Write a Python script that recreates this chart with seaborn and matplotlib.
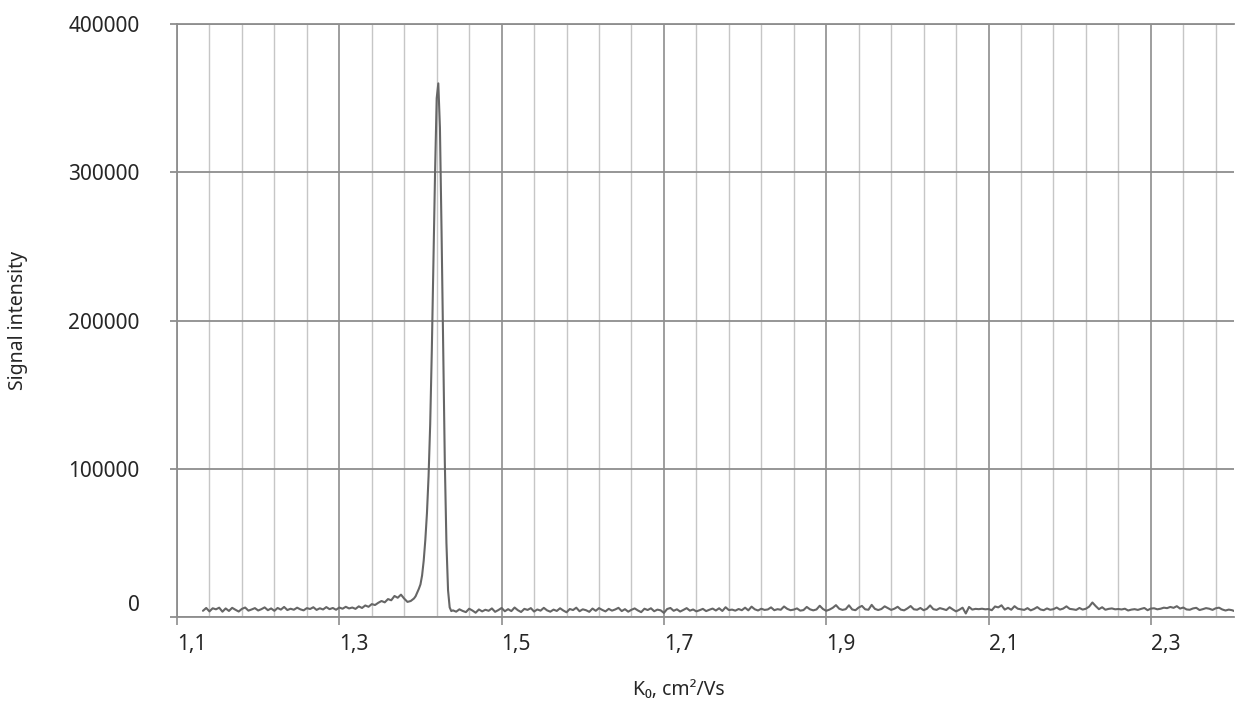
import numpy as np
import pandas as pd
import matplotlib
matplotlib.use("Agg")
import matplotlib.pyplot as plt
import matplotlib.transforms as mtransforms
import seaborn as sns

# sampling grid of the spectrum (K0, cm2/Vs): coarse baseline, fine around the peak
k0_pre = np.round(np.arange(1.132, 1.3921, 0.004), 3)
k0_peak = np.round(np.arange(1.394, 1.4401, 0.002), 3)
k0_post = np.round(np.arange(1.444, 2.4041, 0.004), 3)

# signal, in thousands
signal_pre_k = [
    4.2, 6.1, 3.8, 5.9, 5.2, 6.3, 3.6, 5.8, 4.1, 6.2, 4.9, 3.7, 5.5, 6.4, 4.3, 5.1, 6.0, 4.4,
    5.3, 6.5, 4.6, 5.8, 4.2, 6.1, 5.0, 6.8, 4.7, 5.6, 4.9, 6.3, 5.2, 4.5, 6.0, 5.4, 6.6, 4.8,
    5.9, 5.1, 6.7, 5.3, 6.1, 4.9, 6.4,
    5.6, 6.9, 5.8, 6.4, 5.5, 7.2, 6.1, 7.8, 6.9, 8.7, 8.1, 9.6, 10.8, 9.9, 12.1, 11.3, 14.2,
    13.0, 15.1, 12.4, 10.2, 10.8, 12.5,
]
signal_peak_k = [
    14.0, 16.5, 19.0, 22.0, 28.0, 38.0, 52.0, 70.0, 95.0, 130.0, 180.0, 240.0,
    300.0, 350.0, 360.0, 330.0, 260.0, 180.0, 105.0, 50.0, 18.0, 6.5, 4.0, 4.5,
]
signal_post_k = [
    3.6, 5.2, 4.1, 3.3, 5.6, 4.4, 2.9, 5.1, 3.8, 4.9,
    4.2, 5.8, 3.5, 4.7, 6.1, 3.9, 5.3, 4.0, 6.4, 4.6,
    3.4, 5.5, 4.8, 6.0, 3.7, 5.1, 4.3, 6.2, 4.5, 3.6,
    5.0, 4.1, 5.9, 4.4, 3.2, 5.4, 4.7, 6.3, 3.9, 5.2,
    4.6, 3.5, 5.7, 4.2, 6.0, 4.8, 3.8, 5.5, 4.3, 5.1,
    6.2, 4.0, 5.3, 3.6, 4.9, 5.8, 4.4, 3.3, 5.6, 4.7,
    5.9, 3.9, 5.0, 4.5, 2.8, 5.4, 6.1, 4.2, 5.2, 3.7,
    4.8, 6.0, 4.3, 5.1, 3.8, 4.6, 5.5, 4.0, 4.9, 5.7,
    4.4, 5.9, 4.1, 6.6, 4.7, 5.0, 4.3, 5.4, 4.6, 6.3,
    4.5, 7.0, 5.2, 4.4, 5.6, 4.8, 5.1, 6.5, 4.6, 5.3,
    4.9, 7.1, 5.5, 4.6, 5.0, 5.8, 4.3, 4.7, 6.8, 5.2,
    4.5, 5.1, 7.6, 5.4, 4.2, 5.0, 6.2, 8.0, 5.6, 4.8,
    5.3, 7.9, 5.1, 4.6, 6.4, 7.5, 5.2, 4.9, 8.2, 5.5,
    4.7, 5.4, 7.2, 6.0, 4.8, 5.6, 6.9, 5.0, 4.5, 5.8,
    7.4, 5.2, 4.9, 6.1, 4.6, 5.5, 7.8, 5.3, 4.8, 6.0,
    5.4, 4.7, 6.6, 5.1, 3.8, 4.9, 6.3, 2.4, 6.8, 5.0,
    5.5, 5.3, 5.6, 5.2, 5.4, 4.6, 7.1, 6.5, 7.9, 5.0,
    6.2, 4.9, 7.3, 5.6, 5.2, 4.8, 6.0, 4.5, 5.4, 6.7,
    5.1, 4.6, 5.8, 4.9, 5.3, 6.4, 5.0, 5.7, 7.2, 5.5,
    5.2, 4.8, 6.1, 5.0, 5.6, 7.0, 9.8, 7.4, 5.3, 6.6,
    4.9, 5.5, 5.8, 5.2, 5.4, 5.1, 5.6, 4.4, 5.0, 5.3,
    4.8, 5.5, 6.1, 4.6, 5.7, 5.9, 5.2, 5.6, 6.3, 6.0,
    6.8, 6.2, 7.3, 5.7, 6.4, 5.1, 4.9, 5.8, 6.2, 4.7,
    5.3, 6.0, 5.6, 4.8, 5.9, 6.3, 5.1, 4.4, 5.0, 4.6,
    3.8,
]

x_major = [1.1, 1.3, 1.5, 1.7, 1.9, 2.1, 2.3]
x_labels = ["1,1", "1,3", "1,5", "1,7", "1,9", "2,1", "2,3"]
x_minor = np.round(np.arange(1.14, 2.40, 0.04), 2)
y_ticks = [0, 100000, 200000, 300000, 400000]
y_labels = ["0", "100000", "200000", "300000", "400000"]

df = pd.DataFrame({
    "k0": np.concatenate([k0_pre, k0_peak, k0_post]),
    "signal": np.array(signal_pre_k + signal_peak_k + signal_post_k) * 1000,
})

sns.set_style("white")
plt.rcParams["font.family"] = ["Noto Sans", "DejaVu Sans"]

fig, ax = plt.subplots(figsize=(12.36, 7.08), dpi=100)
fig.subplots_adjust(left=0.1432, right=0.9984, bottom=0.1285, top=0.966)

sns.lineplot(data=df, x="k0", y="signal", ax=ax, color="#666666",
             linewidth=1.5, estimator=None, sort=False)

ax.set_xlim(1.1, 2.4025)
ax.set_ylim(0, 400000)
ax.set_axisbelow(True)

ax.set_xticks(x_major)
ax.set_xticklabels(x_labels, ha="left")
ax.set_xticks(x_minor, minor=True)
ax.set_yticks(y_ticks)
ax.set_yticklabels(y_labels)

grid_dark = "#8e8e8e"
ax.grid(which="major", axis="x", color=grid_dark, lw=1.2)
ax.grid(which="minor", axis="x", color="#c6c6c6", lw=1.0)
ax.grid(which="major", axis="y", color=grid_dark, lw=1.3)

ax.tick_params(axis="x", which="major", direction="out", length=6, width=1.2,
               color=grid_dark, labelsize=15, pad=6, bottom=True)
ax.tick_params(axis="x", which="minor", length=0)
ax.tick_params(axis="y", which="major", direction="out", length=5, width=1.3,
               color=grid_dark, labelsize=15, pad=22, left=True)

for side in ["left", "bottom", "top"]:
    ax.spines[side].set_visible(True)
    ax.spines[side].set_color(grid_dark)
    ax.spines[side].set_linewidth(1.3)
ax.spines["right"].set_visible(False)

# the "0" label sits a little above the baseline in the original
zero_label = ax.get_yticklabels()[0]
zero_label.set_transform(zero_label.get_transform()
                         + mtransforms.ScaledTranslation(0, 14 / 100, fig.dpi_scale_trans))

ax.set_xlabel("")
ax.set_ylabel("")
fig.text(0.549, 0.025, "K\u2080, cm\u00b2/Vs", ha="center", va="center", fontsize=14)
fig.text(0.0146, 0.547, "Signal intensity", ha="center", va="center",
         rotation=90, fontsize=14)

fig.savefig("out.png", dpi=100)
